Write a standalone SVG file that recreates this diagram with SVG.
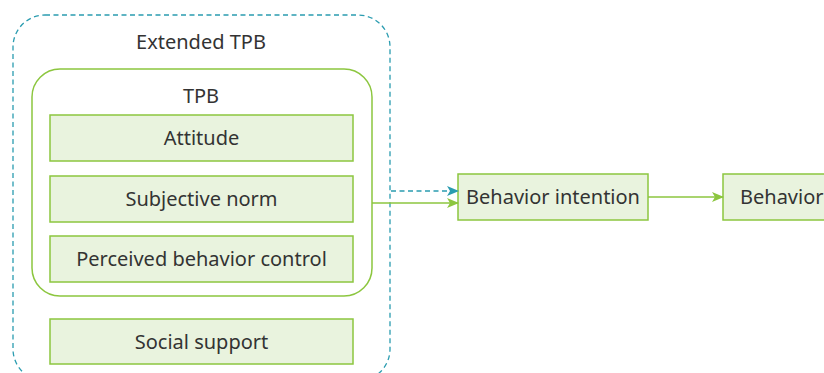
<svg xmlns="http://www.w3.org/2000/svg" width="824" height="373" viewBox="0 0 824 373">
<style>
.box{fill:#e9f3de;stroke:#8cc63f;stroke-width:1.5}
.t{font-family:"Noto Sans","Liberation Sans",Arial,sans-serif;font-size:20px;fill:#333;text-anchor:middle}
.g{stroke:#8cc63f;stroke-width:1.5;fill:none}
.d{stroke:#2a9cb0;stroke-width:1.3;fill:none;stroke-dasharray:5,3.5}
</style>
<defs>
<marker id="ag" markerWidth="12" markerHeight="10" refX="11" refY="5" orient="auto" markerUnits="userSpaceOnUse"><path d="M0,0 L12,5 L0,10 L3,5 Z" fill="#8cc63f"/></marker>
<marker id="at" markerWidth="12" markerHeight="10" refX="11" refY="5" orient="auto" markerUnits="userSpaceOnUse"><path d="M0,0 L12,5 L0,10 L3,5 Z" fill="#2a9cb0"/></marker>
</defs>
<g id="extended-tpb">
<rect x="13" y="15" width="377" height="366" rx="32" class="d"/>
<text x="201" y="48.5" class="t">Extended TPB</text>
</g>
<g id="tpb">
<rect x="32" y="69" width="340" height="227" rx="28" class="g"/>
<text x="201" y="103" class="t">TPB</text>
</g>
<g id="attitude"><rect x="50" y="115" width="303" height="46" class="box"/><text x="201.5" y="145" class="t">Attitude</text></g>
<g id="subjective-norm"><rect x="50" y="176" width="303" height="46" class="box"/><text x="201.5" y="205.5" class="t">Subjective norm</text></g>
<g id="perceived-behavior-control"><rect x="50" y="236" width="303" height="46" class="box"/><text x="201.5" y="266" class="t">Perceived behavior control</text></g>
<g id="social-support"><rect x="50" y="319" width="303" height="45" class="box"/><text x="201.5" y="348.5" class="t">Social support</text></g>
<g id="behavior-intention"><rect x="458" y="174" width="190" height="46" class="box"/><text x="553" y="203.5" class="t">Behavior intention</text></g>
<g id="behavior"><rect x="723" y="174" width="110" height="46" class="box"/><text x="740" y="203.5" class="t" style="text-anchor:start">Behavior</text></g>
<g id="connectors">
<line x1="391" y1="191" x2="458" y2="191" class="d" marker-end="url(#at)"/>
<line x1="372" y1="203" x2="458" y2="203" class="g" marker-end="url(#ag)"/>
<line x1="648" y1="197" x2="723" y2="197" class="g" marker-end="url(#ag)"/>
</g>
</svg>
